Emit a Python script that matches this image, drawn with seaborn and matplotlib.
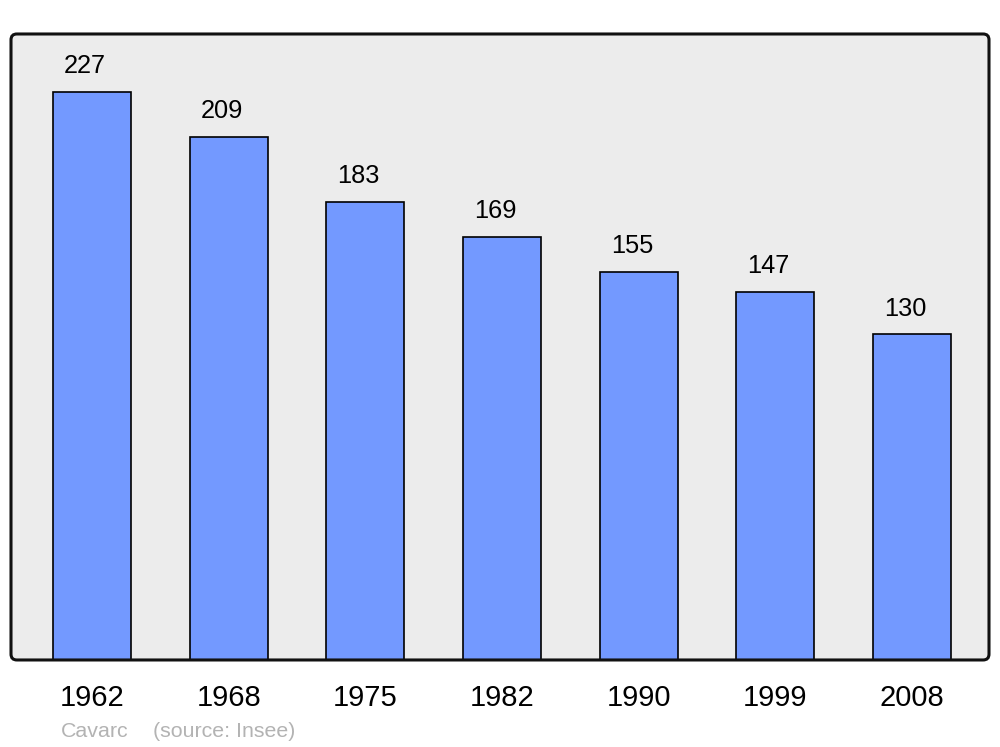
import matplotlib
matplotlib.use("Agg")
import matplotlib.pyplot as plt
from matplotlib.patches import FancyBboxPatch
import seaborn as sns
import pandas as pd

years = ["1962", "1968", "1975", "1982", "1990", "1999", "2008"]
population = [227, 209, 183, 169, 155, 147, 130]

sns.set_style("white")
plt.rcParams['font.family'] = ['Liberation Sans', 'DejaVu Sans']

df = pd.DataFrame({"Year": years, "Population": population})

fig = plt.figure(figsize=(10, 7.47), dpi=100)
ax = fig.add_axes([0.011, 0.1165, 0.978, 0.838])
ax.patch.set_visible(False)

# Rounded grey frame behind the bars, black outline on top
asp = (0.838 * 7.47) / (0.978 * 10)
bg = FancyBboxPatch((0, 0), 1, 1, boxstyle="round,pad=0,rounding_size=0.006",
                    mutation_aspect=1 / asp, transform=ax.transAxes,
                    facecolor="#ececec", edgecolor="none", zorder=0, clip_on=False)
edge = FancyBboxPatch((0, 0), 1, 1, boxstyle="round,pad=0,rounding_size=0.006",
                      mutation_aspect=1 / asp, transform=ax.transAxes,
                      facecolor="none", edgecolor="#111111", linewidth=2.2,
                      zorder=5, clip_on=False)
ax.add_patch(bg)
ax.add_patch(edge)

sns.barplot(data=df, x="Year", y="Population", color="#7399ff", saturation=1,
            width=0.57, edgecolor="black", linewidth=1.2, ax=ax, zorder=2)

# Value labels above each bar
for i, v in enumerate(population):
    ax.text(i - 0.05, v + 7.5, str(v), ha="center", va="baseline",
            fontsize=18.3, color="black")

ax.set_xlim(-0.593, 6.563)
ax.set_ylim(0, 250)
ax.set_xlabel("")
ax.set_ylabel("")
ax.set_yticks([])
ax.tick_params(axis="x", length=0, pad=17, labelsize=21, labelcolor="black")
for s in ax.spines.values():
    s.set_visible(False)

fig.text(0.061, 0.0134, "Cavarc", fontsize=15.4, color="#b3b3b3", va="baseline")
fig.text(0.153, 0.0134, "(source: Insee)", fontsize=15.4, color="#b3b3b3", va="baseline")

fig.savefig("out.png", dpi=100)
